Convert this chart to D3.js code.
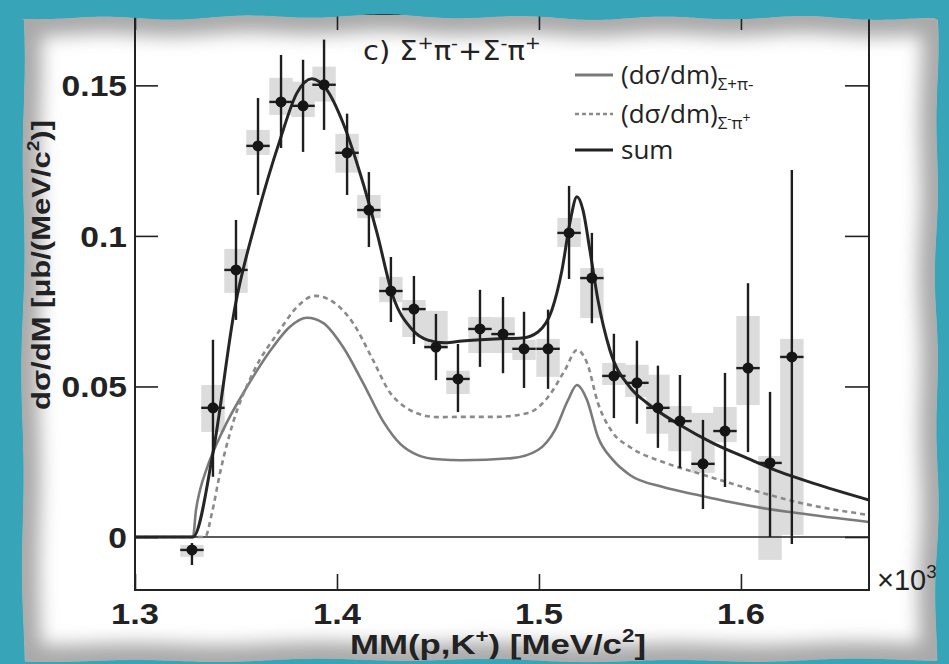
<!DOCTYPE html>
<html><head><meta charset="utf-8">
<script src="https://cdn.jsdelivr.net/npm/d3@7"></script>
<style>html,body{margin:0;padding:0;background:#36a3b6;} svg{display:block;}</style>
</head><body>
<svg id="chart" width="949" height="664"></svg>
<script>
// ---------- data ----------
const mass   = [1.3282,1.3386,1.3500,1.3609,1.3723,1.3832,1.3936,1.4050,1.4158,1.4267,1.4381,1.4490,1.4599,1.4708,1.4822,1.4926,1.5045,1.5149,1.5262,1.5371,1.5485,1.5589,1.5698,1.5812,1.5921,1.6035,1.6144,1.6252];
const value  = [-0.0043,0.0429,0.0887,0.1299,0.1445,0.1432,0.1502,0.1276,0.1086,0.0817,0.0757,0.0631,0.0525,0.0691,0.0674,0.0625,0.0625,0.1010,0.0860,0.0535,0.0512,0.0429,0.0385,0.0243,0.0352,0.0561,0.0246,0.0598];
const statHi = [0.0023,0.0226,0.0166,0.0159,0.0156,0.0153,0.0150,0.0130,0.0126,0.0113,0.0110,0.0110,0.0116,0.0130,0.0123,0.0123,0.0130,0.0156,0.0150,0.0140,0.0140,0.0140,0.0153,0.0146,0.0193,0.0282,0.0236,0.0621];
const statLo = [0.0050,0.0229,0.0166,0.0163,0.0153,0.0153,0.0150,0.0140,0.0123,0.0103,0.0116,0.0110,0.0110,0.0126,0.0130,0.0130,0.0133,0.0153,0.0150,0.0140,0.0136,0.0133,0.0156,0.0150,0.0186,0.0279,0.0246,0.0621];
const sysHi  = [0.0017,0.0076,0.0070,0.0053,0.0080,0.0080,0.0060,0.0063,0.0050,0.0047,0.0030,0.0120,0.0027,0.0040,0.0056,0.0030,0.0033,0.0050,0.0033,0.0043,0.0060,0.0110,0.0050,0.0169,0.0080,0.0173,0.0023,0.0060];
const sysLo  = [0.0023,0.0080,0.0076,0.0030,0.0043,0.0037,0.0056,0.0066,0.0027,0.0037,0.0093,0.0007,0.0050,0.0080,0.0063,0.0037,0.0093,0.0047,0.0133,0.0030,0.0047,0.0086,0.0100,0.0030,0.0037,0.0123,0.0322,0.0591];
const binHalfWidth = 0.0058;

// fit curves
const sumMass  = [1.3000,1.3287,1.3386,1.3495,1.3604,1.3718,1.3802,1.3876,1.3950,1.4030,1.4114,1.4198,1.4277,1.4371,1.4450,1.4535,1.4619,1.4782,1.4916,1.4995,1.5064,1.5114,1.5153,1.5188,1.5218,1.5252,1.5292,1.5351,1.5450,1.5535,1.5698,1.5861,1.6030,1.6193,1.6356,1.6634];
const sumValue = [0,0,0.0279,0.0764,0.1063,0.1319,0.1475,0.1522,0.1485,0.1375,0.1209,0.1010,0.0800,0.0690,0.0654,0.0645,0.0651,0.0658,0.0661,0.0681,0.0754,0.0887,0.1043,0.1130,0.1086,0.0953,0.0787,0.0621,0.0498,0.0445,0.0372,0.0312,0.0262,0.0216,0.0179,0.0123];

const spmMass  = [1.3000,1.3287,1.3302,1.3322,1.3356,1.3436,1.3554,1.3683,1.3767,1.3851,1.3931,1.4030,1.4129,1.4228,1.4312,1.4400,1.4500,1.4619,1.4866,1.4995,1.5079,1.5144,1.5188,1.5238,1.5292,1.5366,1.5450,1.5614,1.5782,1.5946,1.6109,1.6277,1.6634];
const spmValue = [0,0,0.0090,0.0156,0.0229,0.0355,0.0498,0.0631,0.0698,0.0728,0.0711,0.0631,0.0512,0.0385,0.0310,0.0272,0.0258,0.0255,0.0262,0.0289,0.0355,0.0455,0.0505,0.0455,0.0332,0.0256,0.0206,0.0166,0.0140,0.0116,0.0096,0.0080,0.0050];

const smpMass  = [1.3000,1.3347,1.3381,1.3421,1.3485,1.3584,1.3718,1.3802,1.3891,1.3980,1.4079,1.4178,1.4262,1.4330,1.4400,1.4500,1.4619,1.4782,1.4946,1.5045,1.5129,1.5188,1.5238,1.5292,1.5366,1.5450,1.5614,1.5782,1.5946,1.6109,1.6277,1.6634];
const smpValue = [0,0,0.0080,0.0213,0.0379,0.0545,0.0688,0.0764,0.0801,0.0781,0.0711,0.0588,0.0480,0.0435,0.0410,0.0398,0.0399,0.0399,0.0412,0.0465,0.0555,0.0621,0.0578,0.0445,0.0346,0.0299,0.0249,0.0213,0.0179,0.0146,0.0116,0.0073];

const xTicks = [1.3,1.4,1.5,1.6];
const xTickLabels = ["1.3","1.4","1.5","1.6"];
const yTicks = [0,0.05,0.1,0.15];
const yTickLabels = ["0","0.05","0.1","0.15"];

// ---------- layout ----------
const W = 949, H = 664;
const L = 135, R = 869, T = 14, B = 590;
const x = d3.scaleLinear().domain([1.3, 1.6634]).range([L, R]);
const y = d3.scaleLinear().domain([-0.0176, 0.1737]).range([B, T]);

const svg = d3.select("#chart");
const defs = svg.append("defs");

// paper outline (decorative torn edge, gentle wobble)
function paperPath(){
  const pts = [];
  for (let px = 22; px <= 937; px += 4) pts.push([px, 17 + 1.6*Math.sin(px*0.045) + 1.2*Math.sin(px*0.013) + (px>650? (px-650)*0.01:0)]);
  for (let py = 20; py <= 660; py += 4) pts.push([937 + 1.2*Math.sin(py*0.04) + 0.8*Math.sin(py*0.017), py]);
  for (let px = 937; px >= 22; px -= 4) pts.push([px, 660.5 + 1.2*Math.sin(px*0.035) + 0.8*Math.sin(px*0.012)]);
  for (let py = 660; py >= 20; py -= 4) pts.push([23 + 1.2*Math.sin(py*0.03) + 0.8*Math.sin(py*0.011), py]);
  return "M" + pts.map(p => p[0].toFixed(1)+","+p[1].toFixed(1)).join("L") + "Z";
}
const pPath = paperPath();
defs.append("clipPath").attr("id","paperClip").append("path").attr("d", pPath);
defs.append("filter").attr("id","blurEdge").attr("x","-10%").attr("y","-10%").attr("width","120%").attr("height","120%")
  .append("feGaussianBlur").attr("stdDeviation", 9);
defs.append("clipPath").attr("id","plotClip").append("rect")
  .attr("x", L).attr("y", T).attr("width", R-L).attr("height", B-T);

svg.append("rect").attr("width", W).attr("height", H).attr("fill", "#37a4b7");

const paper = svg.append("g").attr("clip-path","url(#paperClip)");
paper.append("rect").attr("width", W).attr("height", H).attr("fill", "#ffffff");
paper.append("path").attr("d", pPath).attr("fill","none").attr("stroke","#8c8c8c")
  .attr("stroke-width", 34).attr("opacity", 0.75).attr("filter","url(#blurEdge)");

// ---------- plot ----------
const plot = svg.append("g").attr("clip-path","url(#plotClip)");

// systematic boxes
plot.append("g").selectAll("rect").data(mass).join("rect")
  .attr("x", (d) => x(d - binHalfWidth))
  .attr("width", (d) => x(d + binHalfWidth) - x(d - binHalfWidth))
  .attr("y", (d,i) => y(value[i] + sysHi[i]))
  .attr("height", (d,i) => y(value[i] - sysLo[i]) - y(value[i] + sysHi[i]))
  .attr("fill", "#dcdcdc");

// zero line
plot.append("line").attr("x1", L).attr("x2", R).attr("y1", y(0)).attr("y2", y(0))
  .attr("stroke", "#222").attr("stroke-width", 1.6);

const line = d3.line().x(d => x(d[0])).y(d => y(d[1])).curve(d3.curveMonotoneX);
plot.append("path").attr("d", line(d3.zip(spmMass, spmValue)))
  .attr("fill","none").attr("stroke","#7a7a7a").attr("stroke-width", 2.6);
plot.append("path").attr("d", line(d3.zip(smpMass, smpValue)))
  .attr("fill","none").attr("stroke","#8a8a8a").attr("stroke-width", 2.6).attr("stroke-dasharray","5,4");
plot.append("path").attr("d", line(d3.zip(sumMass, sumValue)))
  .attr("fill","none").attr("stroke","#262626").attr("stroke-width", 3);

// error bars
const eb = plot.append("g").attr("stroke", "#1e1e1e").attr("stroke-width", 2.4);
eb.selectAll("line.v").data(mass).join("line").attr("class","v")
  .attr("x1", d => x(d)).attr("x2", d => x(d))
  .attr("y1", (d,i) => y(value[i] + statHi[i]))
  .attr("y2", (d,i) => y(value[i] - statLo[i]));
eb.selectAll("line.h").data(mass).join("line").attr("class","h")
  .attr("x1", d => x(d - binHalfWidth)).attr("x2", d => x(d + binHalfWidth))
  .attr("y1", (d,i) => y(value[i])).attr("y2", (d,i) => y(value[i]));
plot.append("g").selectAll("circle").data(mass).join("circle")
  .attr("cx", d => x(d)).attr("cy", (d,i) => y(value[i])).attr("r", 5.5).attr("fill", "#151515");

// axes ticks (inward)
const tickStyle = g => { g.select(".domain").remove(); g.selectAll("line").attr("stroke","#222").attr("stroke-width",1.6); g.selectAll("text").remove(); };
svg.append("g").attr("transform",`translate(0,${B})`).call(d3.axisBottom(x).tickValues(xTicks).tickSize(-16)).call(tickStyle);
svg.append("g").attr("transform",`translate(0,${T})`).call(d3.axisTop(x).tickValues(xTicks).tickSize(-16)).call(tickStyle);
svg.append("g").attr("transform",`translate(${L},0)`).call(d3.axisLeft(y).tickValues(yTicks).tickSize(-23)).call(tickStyle);
svg.append("g").attr("transform",`translate(${R},0)`).call(d3.axisRight(y).tickValues(yTicks).tickSize(-24)).call(tickStyle);

svg.append("rect").attr("x", L).attr("y", T).attr("width", R-L).attr("height", B-T)
  .attr("fill","none").attr("stroke","#222").attr("stroke-width", 2);

// tick labels
const lblFont = "'Liberation Sans', Arial, sans-serif";
svg.append("g").selectAll("text").data(yTicks).join("text")
  .attr("transform", d => `translate(127,${y(d)+11}) scale(1.12,1)`)
  .attr("text-anchor","end").attr("font-family", lblFont).attr("font-weight","bold")
  .attr("font-size", 30).attr("fill","#222").text((d,i) => yTickLabels[i]);
svg.append("g").selectAll("text").data(xTicks).join("text")
  .attr("transform", d => `translate(${x(d)},624) scale(1.15,1)`)
  .attr("text-anchor","middle").attr("font-family", lblFont).attr("font-weight","bold")
  .attr("font-size", 30).attr("fill","#222").text((d,i) => xTickLabels[i]);

// axis titles
const xt = svg.append("text").attr("x", 350).attr("y", 654).attr("font-family", lblFont)
  .attr("font-weight","bold").attr("font-size", 28).attr("fill","#222")
  .attr("textLength", 296).attr("lengthAdjust","spacingAndGlyphs");
xt.append("tspan").text("MM(p,K");
xt.append("tspan").attr("font-size", 18).attr("dy", -12).text("+");
xt.append("tspan").attr("dy", 12).text(") [MeV/c");
xt.append("tspan").attr("font-size", 18).attr("dy", -12).text("2");
xt.append("tspan").attr("dy", 12).text("]");

const yt = svg.append("text").attr("transform","translate(50,265) rotate(-90)").attr("text-anchor","middle")
  .attr("font-family", lblFont).attr("font-weight","bold").attr("font-size", 26).attr("fill","#222")
  .attr("textLength", 290).attr("lengthAdjust","spacingAndGlyphs");
yt.append("tspan").text("dσ/dM [μb/(MeV/c");
yt.append("tspan").attr("font-size", 16).attr("dy", -11).text("2");
yt.append("tspan").attr("dy", 11).text(")]");

const ex = svg.append("text").attr("x", 877).attr("y", 590).attr("font-family", lblFont)
  .attr("font-size", 29).attr("fill","#222");
ex.append("tspan").text("×10");
ex.append("tspan").attr("font-size", 19).attr("dy", -12).text("3");

// title
const ti = svg.append("text").attr("x", 363).attr("y", 60)
  .attr("font-family", "'Liberation Sans Narrow','DejaVu Sans Condensed','Liberation Sans',sans-serif")
  .attr("font-size", 27).attr("fill","#222").attr("textLength", 178).attr("lengthAdjust","spacingAndGlyphs");
ti.append("tspan").text("c) Σ");
ti.append("tspan").attr("font-size",18).attr("dy",-11).text("+");
ti.append("tspan").attr("dy",11).text("π");
ti.append("tspan").attr("font-size",18).attr("dy",-11).text("-");
ti.append("tspan").attr("dy",11).text("+Σ");
ti.append("tspan").attr("font-size",18).attr("dy",-11).text("-");
ti.append("tspan").attr("dy",11).text("π");
ti.append("tspan").attr("font-size",18).attr("dy",-11).text("+");

// legend
const legFont = "'Open Sans','Noto Sans',sans-serif";
const leg = svg.append("g");
const legRows = [
  {y: 75,  stroke: "#7a7a7a", w: 2.8, dash: null},
  {y: 114, stroke: "#8a8a8a", w: 2.6, dash: "4,3"},
  {y: 150, stroke: "#222",    w: 3.2, dash: null}
];
legRows.forEach(r => {
  leg.append("line").attr("x1", 575).attr("x2", 613).attr("y1", r.y).attr("y2", r.y)
    .attr("stroke", r.stroke).attr("stroke-width", r.w).attr("stroke-dasharray", r.dash);
});
const t1 = leg.append("text").attr("x", 621).attr("y", 84).attr("font-family", legFont).attr("font-size", 26).attr("fill","#222");
t1.append("tspan").text("(dσ/dm)");
t1.append("tspan").attr("font-size", 17).attr("dy", 6).text("Σ+π-");
const t2 = leg.append("text").attr("x", 621).attr("y", 123).attr("font-family", legFont).attr("font-size", 26).attr("fill","#222");
t2.append("tspan").text("(dσ/dm)");
t2.append("tspan").attr("font-size", 17).attr("dy", 6).text("Σ");
t2.append("tspan").attr("font-size", 13).attr("dy", -6).text("-");
t2.append("tspan").attr("font-size", 17).attr("dy", 6).text("π");
t2.append("tspan").attr("font-size", 14).attr("dy", -6).text("+");
leg.append("text").attr("x", 621).attr("y", 159).attr("font-family", legFont).attr("font-size", 26).attr("fill","#222").text("sum");

// teal border overlay (covers the plot top edge like the torn paper)
svg.append("path").attr("d", `M0,0H${W}V${H}H0Z` + pPath).attr("fill-rule","evenodd").attr("fill","#37a4b7");
</script>
</body></html>
